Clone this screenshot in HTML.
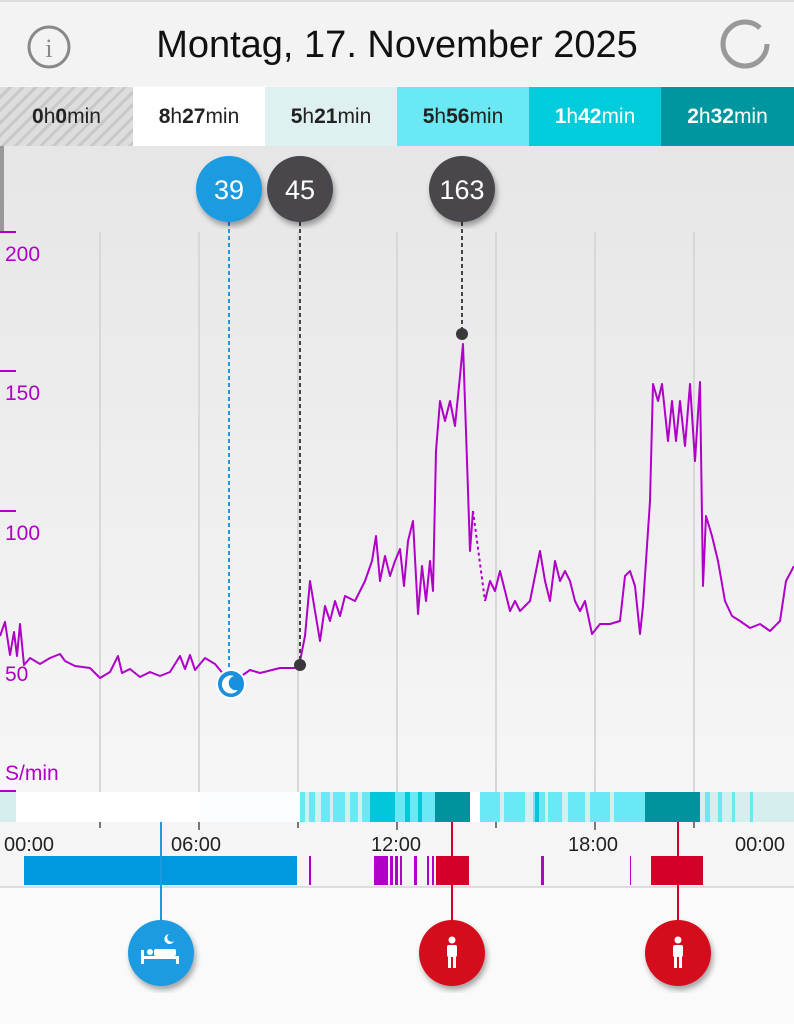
<!DOCTYPE html>
<html><head><meta charset="utf-8"><style>
body{margin:0;width:794px;height:1024px;overflow:hidden;background:#f7f7f7;font-family:"Liberation Sans",sans-serif;position:relative}
.a{position:absolute}
.tab{position:absolute;top:87px;height:59px;width:132px;font-size:21px;line-height:59px;text-align:center;color:#222}
.tab b{font-weight:bold}
</style></head><body>
<div class="a" style="left:0;top:0;width:794px;height:86px;background:#f3f3f3;border-top:2px solid #ddd;box-sizing:border-box"></div>
<svg class="a" style="left:26px;top:24px" width="46" height="46"><circle cx="23" cy="23" r="20" fill="none" stroke="#888" stroke-width="3"/><text x="23" y="33" text-anchor="middle" font-family="Liberation Serif" font-size="26" fill="#888">i</text></svg>
<div class="a" style="left:0;width:794px;top:24px;text-align:center;font-size:38px;color:#111">Montag, 17. November 2025</div>
<svg class="a" style="left:718px;top:17px" width="54" height="54"><circle cx="27" cy="27" r="22" fill="none" stroke="#999" stroke-width="5" stroke-dasharray="120 18"/></svg>
<div class="tab" style="left:0;width:133px;background:repeating-linear-gradient(135deg,#ddd 0 6px,#c8c8c8 6px 9px)"><b>0</b>h<b>0</b>min</div>
<div class="tab" style="left:133px;background:#fff"><b>8</b>h<b>27</b>min</div>
<div class="tab" style="left:265px;background:#dff0f0"><b>5</b>h<b>21</b>min</div>
<div class="tab" style="left:397px;background:#6ae8f3"><b>5</b>h<b>56</b>min</div>
<div class="tab" style="left:529px;background:#00ccdc;color:#fff"><b>1</b>h<b>42</b>min</div>
<div class="tab" style="left:661px;width:133px;background:#00969f;color:#fff"><b>2</b>h<b>32</b>min</div>
<svg class="a" style="left:0;top:146px" width="794" height="878">
<defs><linearGradient id="g" x1="0" y1="0" x2="0" y2="1"><stop offset="0" stop-color="#e6e6e6"/><stop offset="1" stop-color="#f6f6f6"/></linearGradient>
<filter id="sh"><feDropShadow dx="2" dy="4" stdDeviation="3" flood-opacity="0.35"/></filter></defs>
<rect x="0" y="0" width="794" height="646" fill="url(#g)"/>
<rect x="0" y="0" width="4" height="86" fill="#999"/>
<g stroke="#d8d8d8" stroke-width="2">
<line x1="100" y1="86" x2="100" y2="646"/><line x1="199" y1="86" x2="199" y2="646"/><line x1="298" y1="86" x2="298" y2="646"/><line x1="397" y1="86" x2="397" y2="646"/><line x1="496" y1="86" x2="496" y2="646"/><line x1="595" y1="86" x2="595" y2="646"/><line x1="694" y1="86" x2="694" y2="646"/></g>
<g stroke="#b000c8" stroke-width="2"><line x1="0" y1="86" x2="16" y2="86"/><line x1="0" y1="225" x2="16" y2="225"/><line x1="0" y1="365" x2="16" y2="365"/><line x1="0" y1="645" x2="16" y2="645"/></g>
<g fill="#b000c8" font-size="21"><text x="5" y="115">200</text><text x="5" y="254">150</text><text x="5" y="394">100</text><text x="5" y="535">50</text><text x="5" y="634">S/min</text></g>
<polyline fill="none" stroke="#b000c8" stroke-width="2" stroke-linejoin="round" points="0,490 5,476 10,509 14,486 17,510 20,478 24,519 30,512 40,518 50,512 60,508 65,515 75,520 90,522 100,532 110,526 118,510 122,527 130,523 140,531 150,526 160,530 170,526 180,510 185,523 190,509 195,524 205,512 215,518 225,530 240,531 250,524 260,527 280,522 297,522 300,515 305,490 310,435 315,465 320,495 325,460 330,475 335,455 340,470 345,450 355,455 365,435 372,415 376,390 380,435 385,410 390,430 395,415 400,403 404,440 408,395 413,375 418,468 422,420 426,455 430,415 433,445 436,305 440,255 445,275 450,255 455,280 460,230 463,198 467,315 470,405 473,365"/>
<polyline fill="none" stroke="#b000c8" stroke-width="2" stroke-dasharray="3 3" points="473,365 485,455"/>
<polyline fill="none" stroke="#b000c8" stroke-width="2" stroke-linejoin="round" points="485,455 490,435 495,445 500,425 505,445 510,465 515,455 520,465 530,455 540,405 545,435 550,455 555,415 560,435 565,425 570,435 575,455 580,465 585,455 592,488 600,478 610,478 620,475 625,430 630,425 635,440 640,488 643,460 650,355 653,238 658,255 662,238 668,295 672,255 676,295 680,255 685,300 690,238 695,315 700,236 703,440 706,370 712,390 718,415 725,455 732,470 740,475 750,482 760,478 770,485 780,475 786,435 794,420"/>
<line x1="229" y1="76" x2="229" y2="538" stroke="#1a9be0" stroke-width="2" stroke-dasharray="4 3"/>
<line x1="300" y1="76" x2="300" y2="519" stroke="#444" stroke-width="2" stroke-dasharray="4 3"/>
<line x1="462" y1="76" x2="462" y2="188" stroke="#444" stroke-width="2" stroke-dasharray="4 3"/>
<circle cx="300" cy="519" r="6" fill="#3a383c"/><circle cx="462" cy="188" r="6" fill="#3a383c"/>
<circle cx="231" cy="538" r="14" fill="#1a8fdc" stroke="#fff" stroke-width="2"/>
<path d="M234,530 a9,9 0 1,0 4,14 a7,7 0 1,1 -4,-14z" fill="#fff"/>
<g filter="url(#sh)"><circle cx="229" cy="43" r="33" fill="#1a9be0"/><circle cx="300" cy="43" r="33" fill="#4a474c"/><circle cx="462" cy="43" r="33" fill="#4a474c"/></g>
<g fill="#fff" font-size="27" text-anchor="middle"><text x="229" y="53">39</text><text x="300" y="53">45</text><text x="462" y="53">163</text></g>
<rect x="0" y="646" width="794" height="30" fill="#fff"/>
<rect x="0" y="646" width="16" height="30" fill="#d6eeee"/>
<rect x="200" y="646" width="100" height="30" fill="#fafefe"/>
<rect x="300" y="646" width="70" height="30" fill="#6ae8f3"/>
<g fill="#d6eeee"><rect x="305" y="646" width="4" height="30"/><rect x="315" y="646" width="6" height="30"/><rect x="330" y="646" width="3" height="30"/><rect x="345" y="646" width="5" height="30"/><rect x="358" y="646" width="4" height="30"/></g>
<rect x="370" y="646" width="25" height="30" fill="#00c8d8"/>
<rect x="395" y="646" width="40" height="30" fill="#6ae8f3"/>
<rect x="405" y="646" width="5" height="30" fill="#00c8d8"/><rect x="418" y="646" width="4" height="30" fill="#00c8d8"/>
<rect x="435" y="646" width="35" height="30" fill="#00939e"/>
<rect x="480" y="646" width="165" height="30" fill="#6ae8f3"/>
<g fill="#d6eeee"><rect x="500" y="646" width="4" height="30"/><rect x="525" y="646" width="8" height="30"/><rect x="545" y="646" width="3" height="30"/><rect x="562" y="646" width="6" height="30"/><rect x="585" y="646" width="5" height="30"/><rect x="610" y="646" width="4" height="30"/></g>
<rect x="535" y="646" width="4" height="30" fill="#00c8d8"/>
<rect x="645" y="646" width="55" height="30" fill="#00939e"/>
<rect x="700" y="646" width="94" height="30" fill="#d6eeee"/>
<g fill="#6ae8f3"><rect x="705" y="646" width="5" height="30"/><rect x="718" y="646" width="4" height="30"/><rect x="732" y="646" width="3" height="30"/><rect x="750" y="646" width="3" height="30"/></g>
<rect x="0" y="676" width="794" height="66" fill="#f5f5f5"/>
<g stroke="#777" stroke-width="2"><line x1="100" y1="676" x2="100" y2="682"/><line x1="199" y1="676" x2="199" y2="684"/><line x1="298" y1="676" x2="298" y2="682"/><line x1="397" y1="676" x2="397" y2="684"/><line x1="496" y1="676" x2="496" y2="682"/><line x1="595" y1="676" x2="595" y2="684"/><line x1="694" y1="676" x2="694" y2="682"/></g>
<g font-size="20" fill="#222"><text x="4" y="705">00:00</text><text x="171" y="705">06:00</text><text x="371" y="705">12:00</text><text x="568" y="705">18:00</text><text x="735" y="705">00:00</text></g>
<rect x="24" y="710" width="273" height="29" fill="#0099dd"/>
<g fill="#b000c8"><rect x="309" y="710" width="2" height="29"/><rect x="374" y="710" width="14" height="29"/><rect x="390" y="710" width="3" height="29"/><rect x="395" y="710" width="3" height="29"/><rect x="400" y="710" width="2" height="29"/><rect x="414" y="710" width="3" height="29"/><rect x="427" y="710" width="2" height="29"/><rect x="432" y="710" width="2" height="29"/><rect x="541" y="710" width="3" height="29"/><rect x="630" y="710" width="1" height="29"/></g>
<rect x="436" y="710" width="33" height="29" fill="#d4002a"/><rect x="651" y="710" width="52" height="29" fill="#d4002a"/>
<rect x="0" y="741" width="794" height="137" fill="#fafafa"/>
<line x1="0" y1="741" x2="794" y2="741" stroke="#ddd" stroke-width="2"/>
<line x1="161" y1="676" x2="161" y2="780" stroke="#1a9be0" stroke-width="2"/>
<line x1="452" y1="676" x2="452" y2="780" stroke="#d4002a" stroke-width="2"/>
<line x1="678" y1="676" x2="678" y2="780" stroke="#d4002a" stroke-width="2"/>
<g filter="url(#sh)"><circle cx="161" cy="807" r="33" fill="#1a9be0"/><circle cx="452" cy="807" r="33" fill="#d4101f"/><circle cx="678" cy="807" r="33" fill="#d4101f"/></g>
<g fill="#fff"><rect x="141" y="810" width="38" height="3"/><rect x="141" y="804" width="3" height="14"/><rect x="176" y="810" width="3" height="8"/><circle cx="150" cy="806" r="3"/><rect x="154" y="803" width="22" height="7" rx="2"/>
<path d="M169,788 a5,5 0 1,0 5,7 a4,4 0 1,1 -5,-7z"/>
<circle cx="452" cy="794" r="3.5"/><rect x="447" y="799" width="10" height="12" rx="2"/><rect x="448" y="810" width="3" height="12"/><rect x="453" y="810" width="3" height="12"/>
<circle cx="678" cy="794" r="3.5"/><rect x="673" y="799" width="10" height="12" rx="2"/><rect x="674" y="810" width="3" height="12"/><rect x="679" y="810" width="3" height="12"/></g>
</svg>
</body></html>
